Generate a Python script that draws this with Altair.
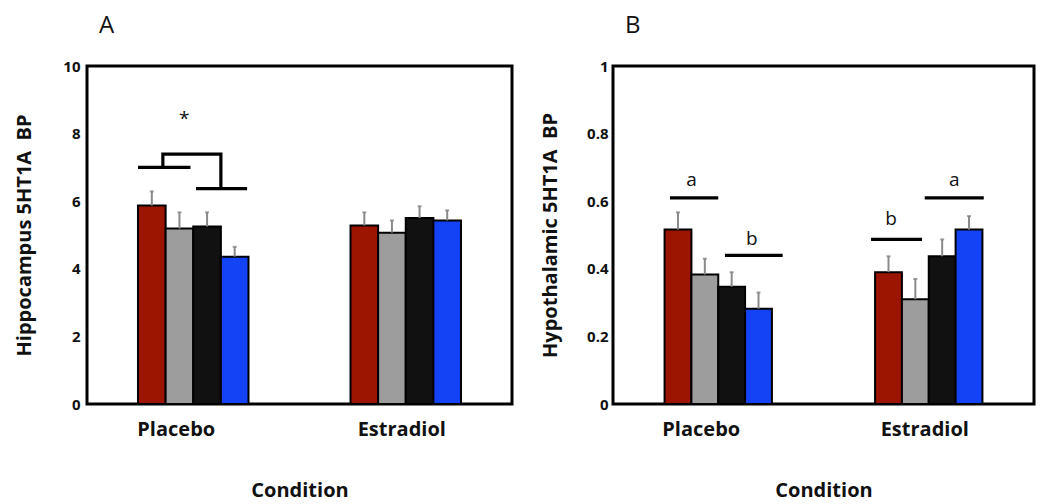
import altair as alt
import pandas as pd

# ---------------- data ----------------
conditions = ["Placebo", "Estradiol"]
series = ["Group 1", "Group 2", "Group 3", "Group 4"]
colors = ["#9b1500", "#9d9d9d", "#111111", "#1443f5"]

hippo_placebo = [5.87, 5.19, 5.25, 4.36]
hippo_estradiol = [5.28, 5.07, 5.50, 5.43]
hippo_sem_placebo = [0.42, 0.48, 0.42, 0.29]
hippo_sem_estradiol = [0.39, 0.36, 0.35, 0.30]

hypo_placebo = [0.516, 0.383, 0.347, 0.282]
hypo_estradiol = [0.390, 0.310, 0.437, 0.516]
hypo_sem_placebo = [0.051, 0.047, 0.043, 0.048]
hypo_sem_estradiol = [0.047, 0.060, 0.050, 0.040]

hippo_ticks = [0, 2, 4, 6, 8, 10]
hypo_ticks = [0, 0.2, 0.4, 0.6, 0.8, 1]

# significance annotations: polylines in bar-width units inside a condition group
hippo_seg_id = ["l1", "l1", "l2", "l2", "br", "br", "br", "br"]
hippo_seg_cond = ["Placebo"] * 8
hippo_seg_pos = [0.0, 1.9, 2.1, 3.95, 0.9, 0.9, 3.0, 3.0]
hippo_seg_val = [7.0, 7.0, 6.37, 6.37, 7.0, 7.39, 7.39, 6.37]
hippo_txt = ["*"]
hippo_txt_cond = ["Placebo"]
hippo_txt_pos = [1.67]
hippo_txt_val = [8.25]

hypo_seg_id = ["a1", "a1", "b1", "b1", "b2", "b2", "a2", "a2"]
hypo_seg_cond = ["Placebo", "Placebo", "Placebo", "Placebo",
                 "Estradiol", "Estradiol", "Estradiol", "Estradiol"]
hypo_seg_pos = [0.2, 2.0, 2.25, 4.4, -0.15, 1.75, 1.85, 4.05]
hypo_seg_val = [0.61, 0.61, 0.44, 0.44, 0.487, 0.487, 0.61, 0.61]
hypo_txt = ["a", "b", "b", "a"]
hypo_txt_cond = ["Placebo", "Placebo", "Estradiol", "Estradiol"]
hypo_txt_pos = [1.0, 3.25, 0.6, 2.95]
hypo_txt_val = [0.645, 0.47, 0.53, 0.645]

FONT = "Open Sans"


def bars_df(pl, es, spl, ses):
    rows = []
    for cond, vals, sems in [("Placebo", pl, spl), ("Estradiol", es, ses)]:
        for s, v, e in zip(series, vals, sems):
            rows.append({"condition": cond, "series": s, "mean": v, "sem": e})
    return pd.DataFrame(rows)


def panel(df, seg, txt, ticks, ymax, ytitle, letter, width, label_pad, title_pad, pin, pout):
    x = alt.X("condition:N", sort=conditions, title="Condition",
              scale=alt.Scale(paddingInner=pin, paddingOuter=pout),
              axis=alt.Axis(labelAngle=0, ticks=False, domain=False,
                            labelOffset={"condition": {"test": "datum.value === 'Placebo'",
                                                       "value": -17},
                                         "value": -4},
                            labelFont=FONT, labelFontWeight="bold", labelFontSize=20,
                            labelColor="#111", labelPadding=15,
                            titleFont=FONT, titleFontWeight="bold", titleFontSize=20,
                            titleColor="#111", titlePadding=41))
    y = alt.Y("mean:Q", title=ytitle,
              scale=alt.Scale(domain=[0, ymax], nice=False),
              axis=alt.Axis(values=ticks, labelExpr="format(datum.value, '~r')",
                            grid=False, ticks=False,
                            domain=False, labelFont=FONT, labelFontWeight="bold",
                            labelFontSize=15, labelColor="#111", labelPadding=label_pad,
                            titleFont=FONT, titleFontWeight="bold", titleFontSize=20,
                            titleColor="#111", titlePadding=title_pad))
    xo = alt.XOffset("series:N", sort=series,
                     scale=alt.Scale(paddingInner=0, paddingOuter=0))
    base = alt.Chart(df)
    bars = base.mark_bar(stroke="black", strokeWidth=2).encode(
        x=x, xOffset=xo, y=y,
        color=alt.Color("series:N", sort=series,
                        scale=alt.Scale(domain=series, range=colors), legend=None),
    )
    err = base.transform_calculate(hi="datum.mean + datum.sem").mark_rule(
        color="#8a8a8a", strokeWidth=2).encode(
        x=x, xOffset=xo, y="mean:Q", y2="hi:Q")
    cap = base.transform_calculate(hi="datum.mean + datum.sem").mark_tick(
        color="#7a7a7a", thickness=2, size=4).encode(
        x=x, xOffset=xo, y="hi:Q")
    main = alt.layer(bars, err, cap)

    pos_scale = alt.Scale(domain=[0, 4], nice=False, zero=False)
    lines = alt.Chart(seg).mark_line(color="black", strokeWidth=3.2,
                                     strokeCap="butt", strokeJoin="miter").encode(
        x=alt.X("condition:N", sort=conditions),
        xOffset=alt.XOffset("pos:Q", scale=pos_scale),
        y="val:Q", detail="seg:N", order="k:Q")
    labels = alt.Chart(txt).mark_text(font=FONT, fontSize=19, color="#111",
                                      baseline="alphabetic").encode(
        x=alt.X("condition:N", sort=conditions),
        xOffset=alt.XOffset("pos:Q", scale=pos_scale),
        y="val:Q", text="t:N")
    ann = alt.layer(lines, labels)

    return alt.layer(main, ann).resolve_scale(xOffset="independent").properties(
        width=width, height=338,
        title=alt.TitleParams(letter, anchor="start", frame="group", font=FONT,
                              fontSize=24, fontWeight="normal", color="#111",
                              dx=12, offset=21),
    )


hippo_df = bars_df(hippo_placebo, hippo_estradiol, hippo_sem_placebo, hippo_sem_estradiol)
hypo_df = bars_df(hypo_placebo, hypo_estradiol, hypo_sem_placebo, hypo_sem_estradiol)

hippo_seg = pd.DataFrame({"seg": hippo_seg_id, "condition": hippo_seg_cond,
                          "pos": hippo_seg_pos, "val": hippo_seg_val,
                          "k": list(range(len(hippo_seg_id)))})
hippo_tx = pd.DataFrame({"t": hippo_txt, "condition": hippo_txt_cond,
                         "pos": hippo_txt_pos, "val": hippo_txt_val})
hypo_seg = pd.DataFrame({"seg": hypo_seg_id, "condition": hypo_seg_cond,
                         "pos": hypo_seg_pos, "val": hypo_seg_val,
                         "k": list(range(len(hypo_seg_id)))})
hypo_tx = pd.DataFrame({"t": hypo_txt, "condition": hypo_txt_cond,
                        "pos": hypo_txt_pos, "val": hypo_txt_val})

left = panel(hippo_df, hippo_seg, hippo_tx, hippo_ticks, 10,
             "Hippocampus 5HT1A\u00a0 BP", "A", 425, 7, 28, 0.48, 0.24)
right = panel(hypo_df, hypo_seg, hypo_tx, hypo_ticks, 1,
              "Hypothalamic 5HT1A\u00a0 BP", "B", 421, 5, 26, 0.49, 0.245)

chart = alt.hconcat(left, right, spacing=25).properties(
    padding={"left": 5, "top": 4, "right": 0, "bottom": 0}
).configure(background="white").configure_view(stroke="black", strokeWidth=3)

chart.save("out.html", embed_options={"renderer": "svg", "actions": False})
